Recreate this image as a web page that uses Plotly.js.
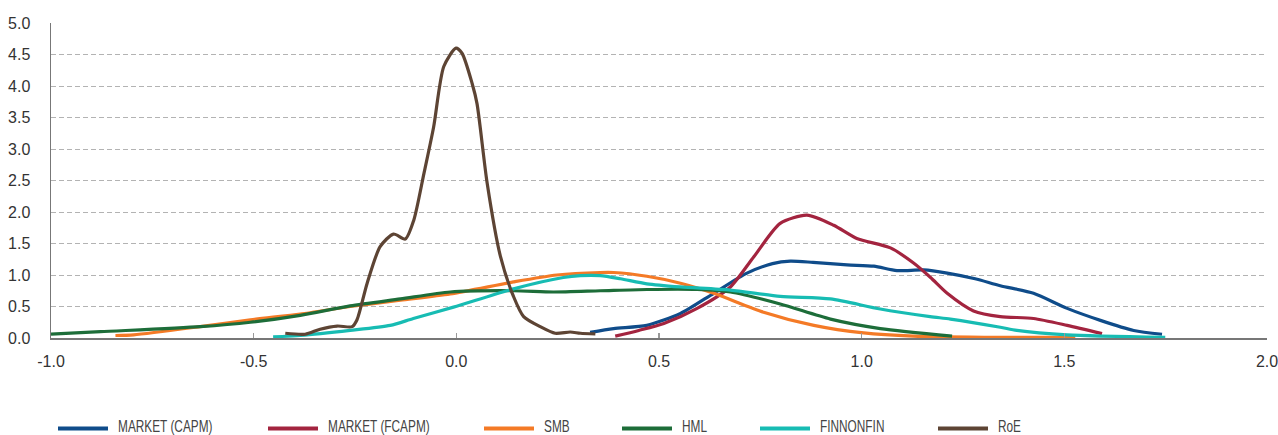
<!DOCTYPE html>
<html>
<head>
<meta charset="utf-8">
<script src="https://cdn.plot.ly/plotly-3.0.1.min.js"></script>
<style>html,body{margin:0;padding:0;background:#fff;}#chart{width:1278px;height:435px;}</style>
</head>
<body>
<div id="chart"></div>
<script>
// ---- Data ----
const seriesNames = ["MARKET (CAPM)", "MARKET (FCAPM)", "SMB", "HML", "FINNONFIN", "RoE"];

const capmX = [0.33, 0.388, 0.47, 0.553, 0.635, 0.717, 0.78, 0.824, 0.88, 0.964, 1.03, 1.087, 1.153, 1.211, 1.28, 1.342, 1.424, 1.507, 1.589, 1.671, 1.741];
const capmY = [0.09, 0.15, 0.20, 0.39, 0.71, 1.03, 1.18, 1.22, 1.20, 1.16, 1.14, 1.07, 1.08, 1.03, 0.94, 0.83, 0.71, 0.47, 0.28, 0.12, 0.06];

const fcapmX = [0.392, 0.45, 0.512, 0.594, 0.676, 0.734, 0.799, 0.865, 0.931, 0.988, 1.071, 1.128, 1.17, 1.211, 1.276, 1.342, 1.424, 1.507, 1.593];
const fcapmY = [0.03, 0.12, 0.23, 0.47, 0.81, 1.29, 1.82, 1.95, 1.79, 1.58, 1.43, 1.19, 0.96, 0.71, 0.43, 0.34, 0.31, 0.20, 0.07];

const smbX = [-0.841, -0.796, -0.632, -0.508, -0.385, -0.262, -0.138, -0.015, 0.141, 0.248, 0.355, 0.388, 0.47, 0.553, 0.635, 0.758, 0.882, 1.005, 1.128, 1.342, 1.527];
const smbY = [0.04, 0.05, 0.18, 0.29, 0.38, 0.50, 0.60, 0.70, 0.89, 1.00, 1.04, 1.04, 0.98, 0.87, 0.71, 0.41, 0.20, 0.08, 0.03, 0.01, 0.01];

const hmlX = [-1.0, -0.878, -0.632, -0.508, -0.385, -0.262, -0.138, -0.015, 0.141, 0.239, 0.355, 0.47, 0.594, 0.676, 0.799, 0.923, 1.046, 1.223];
const hmlY = [0.06, 0.10, 0.18, 0.25, 0.36, 0.51, 0.62, 0.73, 0.75, 0.73, 0.75, 0.77, 0.77, 0.73, 0.54, 0.30, 0.15, 0.03];

const finX = [-0.452, -0.385, -0.262, -0.163, -0.106, -0.007, 0.141, 0.264, 0.306, 0.355, 0.405, 0.47, 0.553, 0.676, 0.799, 0.923, 1.046, 1.169, 1.219, 1.342, 1.383, 1.507, 1.749];
const finY = [0.02, 0.04, 0.12, 0.20, 0.31, 0.49, 0.78, 0.96, 0.99, 0.99, 0.94, 0.86, 0.81, 0.76, 0.66, 0.62, 0.46, 0.34, 0.30, 0.17, 0.12, 0.05, 0.01];

const roeX = [-0.422, -0.373, -0.336, -0.294, -0.257, -0.245, -0.22, -0.188, -0.155, -0.126, -0.105, -0.08, -0.056, -0.031, -0.001, 0.014, 0.039, 0.051, 0.076, 0.109, 0.141, 0.166, 0.207, 0.244, 0.281, 0.306, 0.343];
const roeY = [0.075, 0.06, 0.14, 0.19, 0.18, 0.29, 0.87, 1.45, 1.65, 1.57, 1.87, 2.61, 3.35, 4.31, 4.60, 4.52, 4.04, 3.72, 2.46, 1.29, 0.66, 0.34, 0.18, 0.075, 0.095, 0.075, 0.065];

const xTickVals = [-1.0, -0.5, 0.0, 0.5, 1.0, 1.5, 2.0];
const xTickLabels = ["-1.0", "-0.5", "0.0", "0.5", "1.0", "1.5", "2.0"];
const yTickVals = [0.0, 0.5, 1.0, 1.5, 2.0, 2.5, 3.0, 3.5, 4.0, 4.5, 5.0];

// ---- Styling ----
const colors = ["#0f4c8a", "#a3243f", "#f47a26", "#1d6d39", "#17bcb3", "#5d4434"];
const xs = [capmX, fcapmX, smbX, hmlX, finX, roeX];
const ys = [capmY, fcapmY, smbY, hmlY, finY, roeY];

const traces = seriesNames.map((n, i) => ({
  type: "scatter", mode: "lines", name: n,
  x: xs[i], y: ys[i],
  line: {color: colors[i], width: 3.2, shape: "spline", smoothing: 0.7},
  showlegend: false, hoverinfo: "x+y+name"
}));

// Manual legend (paper coordinates)
const W = 1278, H = 435, ml = 51, mr = 11, mt = 23, mb = 97;
const pw = W - ml - mr, ph = H - mt - mb;
const px = v => (v - ml) / pw;
const py = v => (H - mb - v) / ph;
const legLineStart = [58, 268, 484, 622, 760, 938];
const legLineLen = 50;
const legY = 428.5;
const legTextY = 427;
const shapes = [], annotations = [];
seriesNames.forEach((n, i) => {
  shapes.push({type: "line", xref: "paper", yref: "paper",
    x0: px(legLineStart[i]), x1: px(legLineStart[i] + legLineLen),
    y0: py(legY), y1: py(legY), line: {color: colors[i], width: 4}});
  annotations.push({xref: "paper", yref: "paper", x: px(legLineStart[i] + legLineLen + 9), y: py(legTextY),
    xanchor: "left", yanchor: "middle", showarrow: false, text: n, borderpad: 0,
    font: {family: "Liberation Sans, Arial, sans-serif", size: 16, color: "#444"}});
});

const layout = {
  width: W, height: H,
  margin: {l: ml, r: mr, t: mt, b: mb, pad: 0},
  paper_bgcolor: "#fff", plot_bgcolor: "#fff",
  font: {family: "Liberation Sans, Arial, Helvetica, sans-serif", size: 16, color: "#333"},
  xaxis: {
    range: [-1.0, 2.0], tickvals: xTickVals, ticktext: xTickLabels,
    showgrid: false, zeroline: false,
    showline: true, linecolor: "#777", linewidth: 1.5,
    ticks: "inside", ticklen: 5, tickcolor: "#999", tickwidth: 1.5,
    ticklabelstandoff: 8, ticklabeloverflow: "allow", fixedrange: true
  },
  yaxis: {
    range: [0, 5.0], tickvals: yTickVals, tickformat: ".1f",
    showgrid: true, gridcolor: "#b3b3b3", gridwidth: 1, griddash: "5px,3px",
    zeroline: false, showline: true, linecolor: "#777", linewidth: 1.5,
    ticks: "", ticklabelstandoff: 16, fixedrange: true
  },
  shapes: shapes, annotations: annotations,
  showlegend: false
};

Plotly.newPlot("chart", traces, layout, {displayModeBar: false, staticPlot: true}).then(gd => {
  // condense legend text horizontally to match the narrow legend face of the reference
  gd.querySelectorAll(".annotation-text").forEach(t => {
    const b = t.getBBox();
    const x0 = b.x;
    t.setAttribute("transform", `translate(${x0},0) scale(0.74,1) translate(${-x0},0)`);
  });
});
</script>
</body>
</html>
